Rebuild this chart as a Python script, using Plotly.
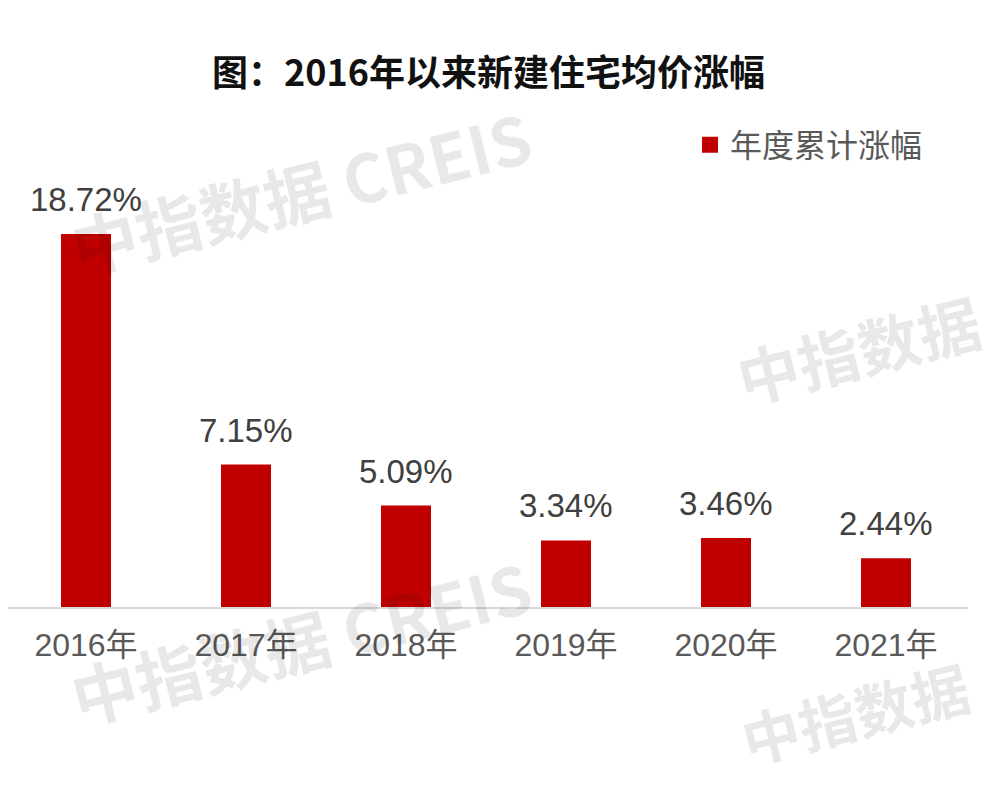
import plotly.graph_objects as go

categories = ["2016年", "2017年", "2018年", "2019年", "2020年", "2021年"]
values = [18.72, 7.15, 5.09, 3.34, 3.46, 2.44]
value_labels = ["18.72%", "7.15%", "5.09%", "3.34%", "3.46%", "2.44%"]
series_name = "年度累计涨幅"
title_text = "图：2016年以来新建住宅均价涨幅"
watermark_full = "中指数据 CREIS"
watermark_short = "中指数据"

OFF = 8  # page body margin
W, H = 1000, 790
L, R, T, B = 0, 40, 172, 191
pw, ph = W - L - R, H - T - B

def px2paper(x, y):
    return (x - OFF - L) / pw, (H - B - (y - OFF)) / ph

fig = go.Figure()
fig.add_trace(go.Bar(
    x=list(range(len(categories))), y=values, name=series_name,
    marker=dict(color="#C00000", line=dict(width=0)),
    showlegend=False,
))
# legend entry with a larger square swatch
fig.add_trace(go.Scatter(
    x=[None], y=[None], mode="markers", name=series_name,
    marker=dict(symbol="square", size=16, color="#C00000"),
    showlegend=True, hoverinfo="skip",
))

annotations = []
for i, (v, t) in enumerate(zip(values, value_labels)):
    annotations.append(dict(
        x=i, y=v, xref="x", yref="y", text=t, showarrow=False,
        yanchor="bottom", yshift=14,
        font=dict(family="Liberation Sans, Arial", size=33, color="#404040"),
    ))

# watermarks
wm = [((300, 190), watermark_full, 66), ((858, 348), watermark_short, 62),
      ((300, 640), watermark_full, 66), ((855, 712), watermark_short, 58)]
for (cx, cy), txt, sz in wm:
    px, py = px2paper(cx, cy)
    annotations.append(dict(
        x=px, y=py, xref="paper", yref="paper", text="<b>" + txt + "</b>",
        showarrow=False, textangle=-14, xanchor="center", yanchor="middle",
        font=dict(family="Noto Sans CJK SC", size=sz, color="rgba(0,0,0,0.09)"),
    ))

tx, ty = px2paper(488, 70)
annotations.append(dict(
    x=tx, y=ty, xref="paper", yref="paper", text="<b>" + title_text + "</b>",
    showarrow=False, xanchor="center", yanchor="middle",
    font=dict(family="Noto Sans CJK SC", size=36, color="#111111"),
))

start = -(86 - OFF) / 160.0
lx, ly = px2paper(690, 145)
fig.update_layout(
    width=W, height=H,
    margin=dict(l=L, r=R, t=T, b=B),
    paper_bgcolor="white", plot_bgcolor="white",
    bargap=0.6875,
    annotations=annotations,
    legend=dict(x=lx, y=ly, xanchor="left", yanchor="middle", bgcolor="rgba(0,0,0,0)",
                font=dict(family="Noto Sans CJK SC", size=32, color="#595959")),
    xaxis=dict(range=[start, start + pw / 160.0],
               tickmode="array", tickvals=list(range(len(categories))), ticktext=categories,
               showline=True, linecolor="#d9d9d9", linewidth=2, showgrid=False, zeroline=False,
               ticks="", ticklabelstandoff=9,
               tickfont=dict(family="Liberation Sans, Noto Sans CJK SC", size=32, color="#595959")),
    yaxis=dict(range=[0, ph / 19.93], visible=False, showgrid=False, zeroline=False),
)

fig.write_html("out.html")
